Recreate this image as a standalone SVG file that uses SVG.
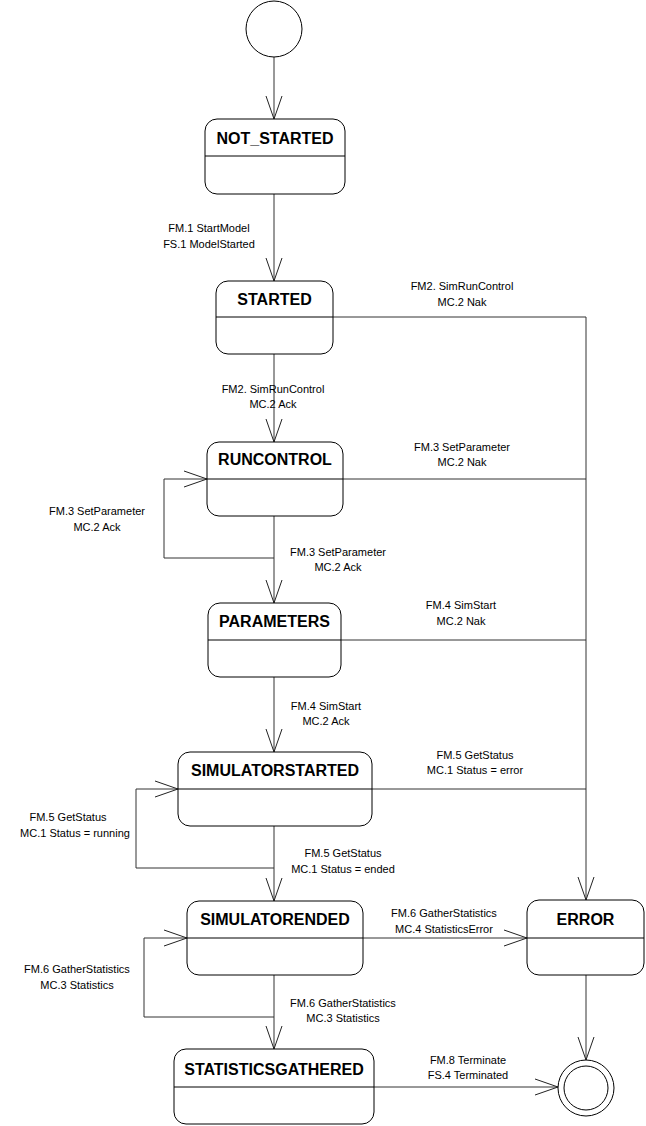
<svg xmlns="http://www.w3.org/2000/svg" width="646" height="1126" viewBox="0 0 646 1126">
<style>
.box{fill:#fff;stroke:#000;stroke-width:1}
.div{stroke:#000;stroke-width:1}
.t{font-family:"Liberation Sans",Arial,sans-serif;font-weight:bold;font-size:16px;fill:#000;text-anchor:middle}
.l{font-family:"Liberation Sans",Arial,sans-serif;font-size:11px;fill:#000;text-anchor:middle}
.c{fill:none;stroke:#333;stroke-width:1}
</style>
<defs>
<marker id="ah" markerUnits="userSpaceOnUse" markerWidth="26" markerHeight="20" viewBox="-24 -10 26 20" refX="0" refY="0" orient="auto">
<path d="M-23,-8 L0,0 L-23,8" fill="none" stroke="#222" stroke-width="1"/>
</marker>
</defs>
<rect width="646" height="1126" fill="#fff"/>
<g id="connectors">
<path class="c" d="M274,57 V119" marker-end="url(#ah)"/>
<path class="c" d="M274,194 V281" marker-end="url(#ah)"/>
<path class="c" d="M274,354 V442" marker-end="url(#ah)"/>
<path class="c" d="M333,317 H586"/>
<path class="c" d="M586,317 V900" stroke="#000" stroke-width="1.3" marker-end="url(#ah)"/>
<path class="c" d="M274,516 V603" marker-end="url(#ah)"/>
<path class="c" d="M274,558 H164 V479 H207" marker-end="url(#ah)"/>
<path class="c" d="M343,479 H586"/>
<path class="c" d="M341,640 H586"/>
<path class="c" d="M274,677 V752" marker-end="url(#ah)"/>
<path class="c" d="M372,789 H586"/>
<path class="c" d="M274,826 V901" marker-end="url(#ah)"/>
<path class="c" d="M274,868 H136 V789 H178" marker-end="url(#ah)"/>
<path class="c" d="M363,938 H527" marker-end="url(#ah)"/>
<path class="c" d="M274,975 V1049" marker-end="url(#ah)"/>
<path class="c" d="M274,1017 H144 V938 H187" marker-end="url(#ah)"/>
<path class="c" d="M374,1087 H558" marker-end="url(#ah)"/>
<path class="c" d="M586,975 V1060" marker-end="url(#ah)"/>
<text class="l" x="209" y="232">FM.1 StartModel</text>
<text class="l" x="209" y="248">FS.1 ModelStarted</text>
<text class="l" x="462" y="290">FM2. SimRunControl</text>
<text class="l" x="462" y="306">MC.2 Nak</text>
<text class="l" x="273" y="393">FM2. SimRunControl</text>
<text class="l" x="273" y="408">MC.2 Ack</text>
<text class="l" x="462" y="451">FM.3 SetParameter</text>
<text class="l" x="462" y="466">MC.2 Nak</text>
<text class="l" x="97" y="515">FM.3 SetParameter</text>
<text class="l" x="97" y="531">MC.2 Ack</text>
<text class="l" x="338" y="556">FM.3 SetParameter</text>
<text class="l" x="338" y="571">MC.2 Ack</text>
<text class="l" x="461" y="609">FM.4 SimStart</text>
<text class="l" x="461" y="625">MC.2 Nak</text>
<text class="l" x="326" y="710">FM.4 SimStart</text>
<text class="l" x="326" y="725">MC.2 Ack</text>
<text class="l" x="475" y="759">FM.5 GetStatus</text>
<text class="l" x="475" y="774">MC.1 Status = error</text>
<text class="l" x="68" y="821">FM.5 GetStatus</text>
<text class="l" x="75" y="837">MC.1 Status = running</text>
<text class="l" x="343" y="857">FM.5 GetStatus</text>
<text class="l" x="343" y="873">MC.1 Status = ended</text>
<text class="l" x="444" y="917">FM.6 GatherStatistics</text>
<text class="l" x="444" y="933">MC.4 StatisticsError</text>
<text class="l" x="77" y="973">FM.6 GatherStatistics</text>
<text class="l" x="77" y="989">MC.3 Statistics</text>
<text class="l" x="343" y="1007">FM.6 GatherStatistics</text>
<text class="l" x="343" y="1022">MC.3 Statistics</text>
<text class="l" x="468" y="1064">FM.8 Terminate</text>
<text class="l" x="468" y="1079">FS.4 Terminated</text>
</g>
<g id="initial">
<circle cx="274" cy="29" r="28" fill="#fff" stroke="#000" stroke-width="1"/>
</g>
<g id="not_started">
<rect class="box" x="205" y="119" width="140" height="75" rx="12"/>
<line class="div" x1="205" y1="156" x2="345" y2="156"/>
<text class="t" x="275" y="144">NOT_STARTED</text>
</g>
<g id="started">
<rect class="box" x="216" y="281" width="117" height="73" rx="12"/>
<line class="div" x1="216" y1="317" x2="333" y2="317"/>
<text class="t" x="274.5" y="305">STARTED</text>
</g>
<g id="runcontrol">
<rect class="box" x="207" y="442" width="136" height="74" rx="12"/>
<line class="div" x1="207" y1="479" x2="343" y2="479"/>
<text class="t" x="275" y="465">RUNCONTROL</text>
</g>
<g id="parameters">
<rect class="box" x="208" y="603" width="133" height="74" rx="12"/>
<line class="div" x1="208" y1="640" x2="341" y2="640"/>
<text class="t" x="274.5" y="627">PARAMETERS</text>
</g>
<g id="simulatorstarted">
<rect class="box" x="178" y="752" width="194" height="74" rx="12"/>
<line class="div" x1="178" y1="789" x2="372" y2="789"/>
<text class="t" x="275" y="776">SIMULATORSTARTED</text>
</g>
<g id="simulatorended">
<rect class="box" x="187" y="901" width="176" height="74" rx="12"/>
<line class="div" x1="187" y1="938" x2="363" y2="938"/>
<text class="t" x="275" y="925">SIMULATORENDED</text>
</g>
<g id="statisticsgathered">
<rect class="box" x="174" y="1049" width="200" height="75" rx="12"/>
<line class="div" x1="174" y1="1087" x2="374" y2="1087"/>
<text class="t" x="274" y="1075">STATISTICSGATHERED</text>
</g>
<g id="error">
<rect class="box" x="527" y="900" width="117" height="75" rx="12"/>
<line class="div" x1="527" y1="938" x2="644" y2="938"/>
<text class="t" x="585.5" y="925">ERROR</text>
</g>
<g id="final">
<circle cx="586" cy="1088" r="28" fill="#fff" stroke="#000" stroke-width="1"/>
<circle cx="586" cy="1088" r="22" fill="none" stroke="#000" stroke-width="1"/>
</g>
</svg>
